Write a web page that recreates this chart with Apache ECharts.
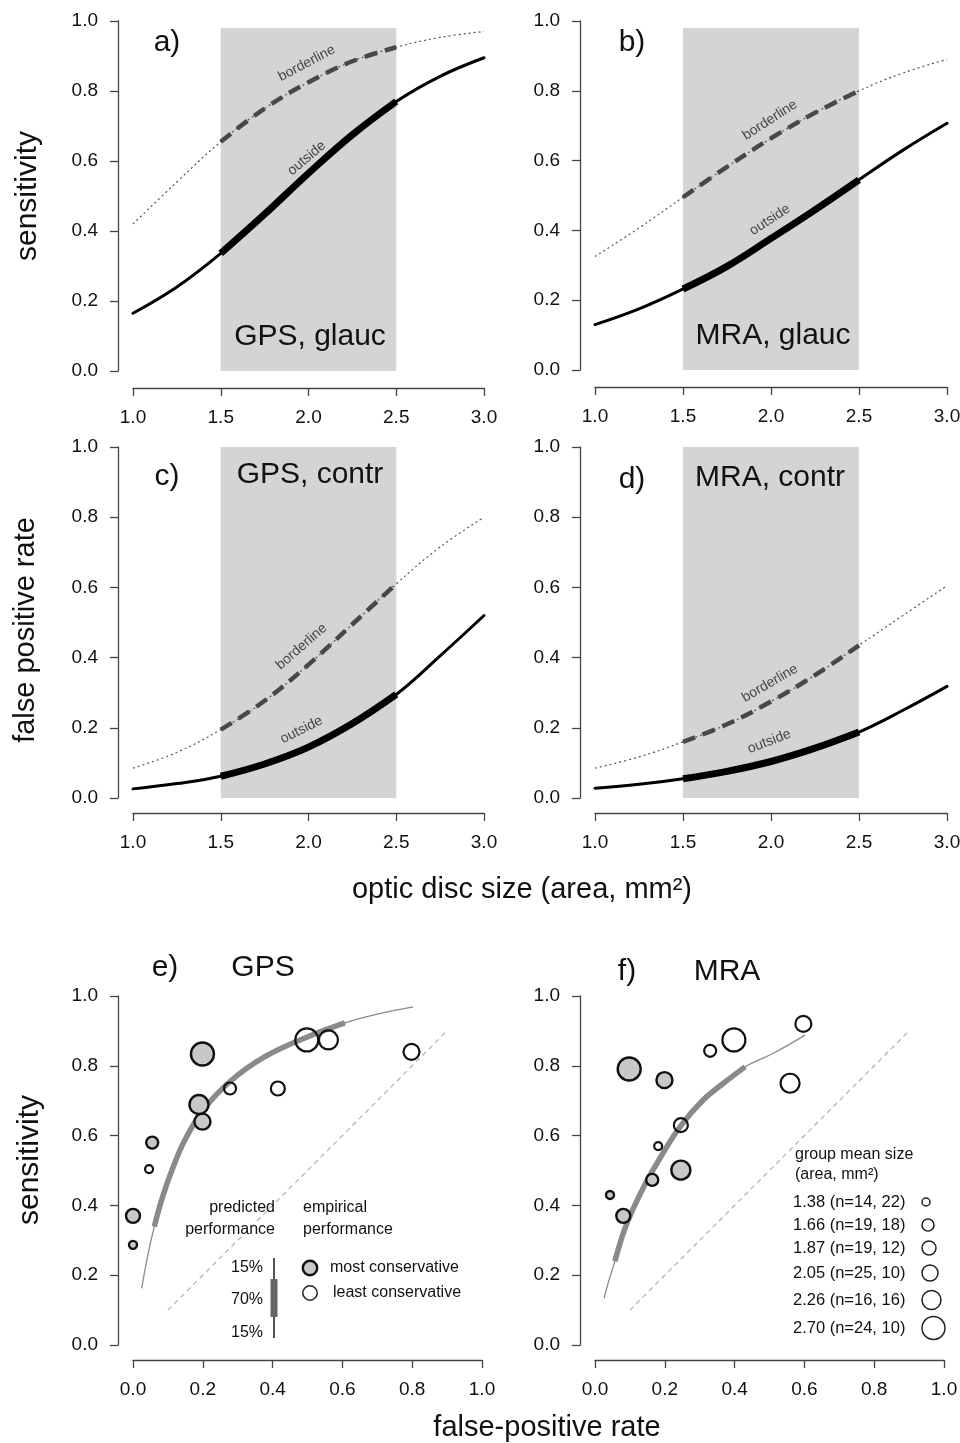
<!DOCTYPE html>
<html>
<head>
<meta charset="utf-8">
<script src="https://cdn.jsdelivr.net/npm/echarts@6/dist/echarts.min.js"></script>
<style>
    html, body { margin: 0; padding: 0; background: #fff; }
    #chart { width: 960px; height: 1443px; }
</style>
</head>
<body>
<div id="chart"></div>
<script>
const FONT = '"Liberation Sans", Arial, Helvetica, sans-serif';

// optic disc size samples for the model curves (panels a-d)
const DISC_SIZE = [1.0, 1.25, 1.5, 1.75, 2.0, 2.25, 2.5, 2.75, 3.0];
const SHADED = [1.5, 2.5];

const GPS_GLAUC_BORDER = [0.42, 0.54, 0.655, 0.75, 0.825, 0.885, 0.925, 0.953, 0.97];
const GPS_GLAUC_OUTSIDE = [0.165, 0.24, 0.336, 0.448, 0.565, 0.675, 0.77, 0.842, 0.895];
const MRA_GLAUC_BORDER = [0.325, 0.407, 0.495, 0.582, 0.664, 0.737, 0.80, 0.851, 0.89];
const MRA_GLAUC_OUTSIDE = [0.13, 0.175, 0.232, 0.297, 0.377, 0.459, 0.545, 0.63, 0.707];
const GPS_CONTR_BORDER = [0.085, 0.13, 0.195, 0.277, 0.38, 0.495, 0.61, 0.715, 0.80];
const GPS_CONTR_OUTSIDE = [0.026, 0.041, 0.062, 0.097, 0.145, 0.212, 0.295, 0.405, 0.52];
const MRA_CONTR_BORDER = [0.085, 0.117, 0.16, 0.21, 0.275, 0.35, 0.435, 0.52, 0.605];
const MRA_CONTR_OUTSIDE = [0.028, 0.039, 0.055, 0.076, 0.104, 0.142, 0.188, 0.25, 0.318];

// predicted ROC curves (panels e, f)
const GPS_ROC_FPR = [0.025, 0.04, 0.061, 0.085, 0.115, 0.15, 0.2, 0.278, 0.378, 0.498, 0.607, 0.7, 0.803];
const GPS_ROC_SENS = [0.162, 0.245, 0.339, 0.425, 0.51, 0.59, 0.672, 0.755, 0.826, 0.882, 0.923, 0.948, 0.969];
const GPS_ROC_CORE = [0.061, 0.607];
const MRA_ROC_FPR = [0.026, 0.04, 0.057, 0.09, 0.138, 0.186, 0.244, 0.31, 0.368, 0.43, 0.511, 0.602];
const MRA_ROC_SENS = [0.134, 0.185, 0.24, 0.345, 0.45, 0.535, 0.626, 0.702, 0.75, 0.797, 0.836, 0.888];
const MRA_ROC_CORE = [0.057, 0.43];
const CHANCE_LINE = [[0.1, 0.1], [0.9, 0.9]];

// empirical performance: [fpr, sensitivity, size group]
const GPS_MOST = [[0.0, 0.287, 0], [0.055, 0.58, 1], [0.0, 0.37, 2], [0.199, 0.64, 3], [0.189, 0.689, 4], [0.199, 0.834, 5]];
const GPS_LEAST = [[0.046, 0.504, 0], [0.278, 0.735, 1], [0.415, 0.735, 2], [0.798, 0.84, 3], [0.56, 0.874, 4], [0.498, 0.874, 5]];
const MRA_MOST = [[0.043, 0.43, 0], [0.164, 0.473, 1], [0.081, 0.37, 2], [0.199, 0.759, 3], [0.246, 0.501, 4], [0.098, 0.791, 5]];
const MRA_LEAST = [[0.181, 0.57, 0], [0.33, 0.843, 1], [0.246, 0.63, 2], [0.597, 0.92, 3], [0.559, 0.75, 4], [0.398, 0.874, 5]];

const GROUP_MEAN = ['1.38', '1.66', '1.87', '2.05', '2.26', '2.70'];
const GROUP_N = ['n=14, 22', 'n=19, 18', 'n=19, 12', 'n=25, 10', 'n=16, 16', 'n=24, 10'];
const GROUP_DIAM = [8, 12, 14, 16, 19, 23];

const AXIS_COLOR = '#444';
const TEXT_COLOR = '#111';

const GRIDS = [
    {left: 133, top: 21, width: 351, height: 350},
    {left: 595, top: 21, width: 352, height: 349},
    {left: 133, top: 447, width: 351, height: 351},
    {left: 595, top: 447, width: 352, height: 351},
    {left: 133, top: 996, width: 349, height: 349},
    {left: 595, top: 996, width: 349, height: 349},
];
const X_OFFSET = [17, 17, 15, 15, 15, 15];

const TOP_PANELS = [
    {border: GPS_GLAUC_BORDER, outside: GPS_GLAUC_OUTSIDE, shadeTop: 0.98,
        labels: [['borderline', 1.99, 0.879, 28], ['outside', 1.99, 0.608, 40]]},
    {border: MRA_GLAUC_BORDER, outside: MRA_GLAUC_OUTSIDE, shadeTop: 0.98,
        labels: [['borderline', 1.994, 0.716, 33], ['outside', 1.994, 0.43, 33]]},
    {border: GPS_CONTR_BORDER, outside: GPS_CONTR_OUTSIDE, shadeTop: 1.0,
        labels: [['borderline', 1.96, 0.431, 41], ['outside', 1.96, 0.194, 27]]},
    {border: MRA_CONTR_BORDER, outside: MRA_CONTR_OUTSIDE, shadeTop: 1.0,
        labels: [['borderline', 1.994, 0.327, 30], ['outside', 1.99, 0.161, 21]]},
];

const BOTTOM_PANELS = [
    {fpr: GPS_ROC_FPR, sens: GPS_ROC_SENS, core: GPS_ROC_CORE, most: GPS_MOST, least: GPS_LEAST},
    {fpr: MRA_ROC_FPR, sens: MRA_ROC_SENS, core: MRA_ROC_CORE, most: MRA_MOST, least: MRA_LEAST},
];

const zip = (xs, ys) => xs.map((x, i) => [x, ys[i]]);
const within = (pts, range) => pts.filter(p => p[0] >= range[0] - 1e-9 && p[0] <= range[1] + 1e-9);

function makeXAxis(i, min, max, interval) {
    return {
        type: 'value', gridIndex: i, min, max, interval,
        position: 'bottom',
        offset: X_OFFSET[i],
        axisLine: {show: true, onZero: false, lineStyle: {color: AXIS_COLOR, width: 1.3}},
        axisTick: {show: true, length: 8, lineStyle: {color: AXIS_COLOR, width: 1.3}},
        axisLabel: {margin: 20, fontSize: 19, color: TEXT_COLOR, fontFamily: FONT, formatter: v => v.toFixed(1)},
        splitLine: {show: false},
    };
}

function makeYAxis(i) {
    return {
        type: 'value', gridIndex: i, min: 0, max: 1, interval: 0.2,
        position: 'left',
        offset: 15,
        axisLine: {show: true, onZero: false, lineStyle: {color: AXIS_COLOR, width: 1.3}},
        axisTick: {show: true, length: 8, lineStyle: {color: AXIS_COLOR, width: 1.3}},
        axisLabel: {margin: 20, fontSize: 19, color: TEXT_COLOR, fontFamily: FONT, formatter: v => v.toFixed(1)},
        splitLine: {show: false},
    };
}

const series = [];

TOP_PANELS.forEach((p, i) => {
    const border = zip(DISC_SIZE, p.border);
    const outside = zip(DISC_SIZE, p.outside);
    const axes = {xAxisIndex: i, yAxisIndex: i};
    series.push({
        type: 'line', ...axes, z: 1, silent: true, symbol: 'none',
        data: [[1, 0], [3, 0]], lineStyle: {opacity: 0},
        markArea: {
            silent: true,
            itemStyle: {color: '#d4d4d4'},
            data: [[{coord: [SHADED[0], 0]}, {coord: [SHADED[1], p.shadeTop]}]],
        },
    });
    series.push({
        type: 'line', ...axes, z: 3, symbol: 'none', smooth: 0.4, data: border,
        lineStyle: {color: '#555', width: 1.2, type: [2, 3]},
    });
    series.push({
        type: 'line', ...axes, z: 4, symbol: 'none', smooth: 0.4, data: within(border, SHADED),
        lineStyle: {color: '#484848', width: 4.5, type: [13, 8]},
    });
    series.push({
        type: 'line', ...axes, z: 4, symbol: 'none', smooth: 0.4, data: outside,
        lineStyle: {color: '#000', width: 3, cap: 'round'},
    });
    series.push({
        type: 'line', ...axes, z: 5, symbol: 'none', smooth: 0.4, data: within(outside, SHADED),
        lineStyle: {color: '#000', width: 7},
    });
    series.push({
        type: 'scatter', ...axes, z: 6, symbolSize: 0, silent: true,
        data: p.labels.map(([text, x, y, rot]) => ({
            value: [x, y],
            label: {show: true, position: 'inside', formatter: text, rotate: rot,
                fontSize: 14, color: '#222', fontFamily: FONT},
        })),
    });
});

BOTTOM_PANELS.forEach((p, k) => {
    const i = k + 4;
    const axes = {xAxisIndex: i, yAxisIndex: i};
    const roc = zip(p.fpr, p.sens);
    series.push({
        type: 'line', ...axes, z: 2, symbol: 'none', data: CHANCE_LINE,
        lineStyle: {color: '#b0b0b0', width: 1.2, type: [5, 4]},
    });
    series.push({
        type: 'line', ...axes, z: 3, symbol: 'none', smooth: 0.4, data: roc,
        lineStyle: {color: '#8a8a8a', width: 1.3},
    });
    series.push({
        type: 'line', ...axes, z: 3, symbol: 'none', smooth: 0.4, data: within(roc, p.core),
        lineStyle: {color: '#8a8a8a', width: 5.5},
    });
    series.push({
        type: 'scatter', ...axes, z: 5, data: p.most,
        symbolSize: v => GROUP_DIAM[v[2]],
        itemStyle: {color: '#c8c8c8', borderColor: '#111', borderWidth: 2.4, opacity: 1},
    });
    series.push({
        type: 'scatter', ...axes, z: 5, data: p.least,
        symbolSize: v => GROUP_DIAM[v[2]],
        itemStyle: {color: 'rgba(255,255,255,0)', borderColor: '#111', borderWidth: 2.2, opacity: 1},
    });
});

// texts and legends
const graphic = [];

function text(str, x, y, size, opts = {}) {
    graphic.push({
        type: 'text', x, y, z: 50, rotation: opts.rotation || 0, silent: true,
        style: {
            text: str, fill: opts.color || TEXT_COLOR,
            font: `${size}px ${FONT}`,
            textAlign: opts.align || 'center',
            textVerticalAlign: 'middle', verticalAlign: 'middle',
        },
    });
}

text('a)', 167, 43, 30);
text('GPS, glauc', 310, 337, 30);
text('b)', 632, 43, 30);
text('MRA, glauc', 773, 336, 30);
text('c)', 167, 477, 30);
text('GPS, contr', 310, 475, 30);
text('d)', 632, 480, 30);
text('MRA, contr', 770, 478, 30);
text('e)', 165, 968, 30);
text('GPS', 263, 968, 30);
text('f)', 627, 972, 30);
text('MRA', 727, 972, 30);

text('sensitivity', 28, 196, 30, {rotation: Math.PI / 2});
text('false positive rate', 26, 630, 29, {rotation: Math.PI / 2});
text('optic disc size (area, mm²)', 522, 890, 29);
text('sensitivity', 30, 1160, 30, {rotation: Math.PI / 2});
text('false-positive rate', 547, 1428, 29);

// panel e legend
text('predicted', 275, 1208, 16, {align: 'right'});
text('performance', 275, 1230, 16, {align: 'right'});
text('empirical', 303, 1208, 16, {align: 'left'});
text('performance', 303, 1230, 16, {align: 'left'});
text('15%', 263, 1268, 16, {align: 'right'});
text('70%', 263, 1300, 16, {align: 'right'});
text('15%', 263, 1333, 16, {align: 'right'});
graphic.push({type: 'line', z: 50, silent: true, shape: {x1: 274, y1: 1258, x2: 274, y2: 1338},
    style: {stroke: '#555', lineWidth: 2}});
graphic.push({type: 'line', z: 50, silent: true, shape: {x1: 274, y1: 1279, x2: 274, y2: 1317},
    style: {stroke: '#666', lineWidth: 7}});
graphic.push({type: 'circle', z: 50, silent: true, shape: {cx: 310, cy: 1268, r: 7.2},
    style: {fill: '#c8c8c8', stroke: '#111', lineWidth: 2.4}});
graphic.push({type: 'circle', z: 50, silent: true, shape: {cx: 310, cy: 1293, r: 7.2},
    style: {fill: '#fff', stroke: '#222', lineWidth: 1.5}});
text('most conservative', 330, 1268, 16, {align: 'left'});
text('least conservative', 333, 1293, 16, {align: 'left'});

// panel f legend
const LEGEND_ROW_Y = [1202, 1225, 1248, 1273, 1300, 1328];
text('group mean size', 795, 1155, 16, {align: 'left'});
text('(area, mm²)', 795, 1175, 16, {align: 'left'});
GROUP_MEAN.forEach((g, i) => {
    text(`${g} (${GROUP_N[i]})`, 793, LEGEND_ROW_Y[i], 16.5, {align: 'left'});
    const r = GROUP_DIAM[i] / 2;
    graphic.push({type: 'circle', z: 50, silent: true, shape: {cx: 922 + r, cy: LEGEND_ROW_Y[i], r},
        style: {fill: '#fff', stroke: '#222', lineWidth: 1.5}});
});

const chart = echarts.init(document.getElementById('chart'), null, {renderer: 'canvas'});
chart.setOption({
    animation: false,
    backgroundColor: '#fff',
    textStyle: {fontFamily: FONT},
    grid: GRIDS.map(g => ({...g, containLabel: false, outerBoundsMode: 'none'})),
    xAxis: [
        makeXAxis(0, 1, 3, 0.5), makeXAxis(1, 1, 3, 0.5),
        makeXAxis(2, 1, 3, 0.5), makeXAxis(3, 1, 3, 0.5),
        makeXAxis(4, 0, 1, 0.2), makeXAxis(5, 0, 1, 0.2),
    ],
    yAxis: GRIDS.map((g, i) => makeYAxis(i)),
    series,
    graphic,
});
</script>
</body>
</html>
